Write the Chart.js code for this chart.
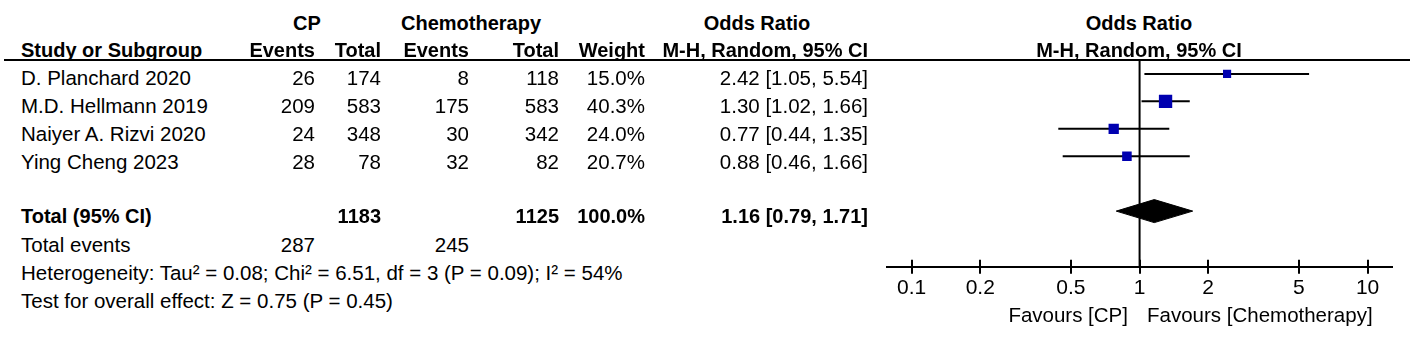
<!DOCTYPE html>
<html>
<head>
<meta charset="utf-8">
<script src="https://cdn.jsdelivr.net/npm/chart.js@4.4.1/dist/chart.umd.min.js"></script>
<style>
    body { margin: 0; background: #fff; width: 1417px; height: 344px; overflow: hidden; position: relative;
           font-family: "Liberation Sans", Arial, sans-serif; color: #000; }
    .t { position: absolute; font-size: 20.5px; line-height: 1; white-space: nowrap; }
    .b { font-weight: bold; font-size: 20px; }
    #rule { position: absolute; left: 4px; top: 59px; width: 1406px; height: 2px; background: #000; }
    #plot { position: absolute; left: 860px; top: 40px; width: 557px; height: 300px; }
</style>
</head>
<body>
<div id="rule"></div>
<div id="plot"><canvas id="forest"></canvas></div>
<script>
// study data
const studies = ['D. Planchard 2020', 'M.D. Hellmann 2019', 'Naiyer A. Rizvi 2020', 'Ying Cheng 2023'];
const cpEvents = [26, 209, 24, 28];
const cpTotal = [174, 583, 348, 78];
const chemoEvents = [8, 175, 30, 32];
const chemoTotal = [118, 583, 342, 82];
const weights = [15.0, 40.3, 24.0, 20.7];
const oddsRatio = [2.42, 1.30, 0.77, 0.88];
const ciLow = [1.05, 1.02, 0.44, 0.46];
const ciHigh = [5.54, 1.66, 1.35, 1.66];

// pooled result
const pooled = [1.16, 0.79, 1.71];   // estimate, low, high
const totalCP = 1183;
const totalChemo = 1125;
const eventsCP = 287;
const eventsChemo = 245;
const heterogeneity = 'Heterogeneity: Tau² = 0.08; Chi² = 6.51, df = 3 (P = 0.09); I² = 54%';
const overallTest = 'Test for overall effect: Z = 0.75 (P = 0.45)';

const tickValues = [0.1, 0.2, 0.5, 1, 2, 5, 10];

// layout
const col = { name: 21, cpEv: 315, cpTot: 381, chEv: 469, chTot: 559, weight: 645, or: 868 };
const plotCenter = 1139;

function put(text, x, y, align, bold) {
    const el = document.createElement('div');
    el.className = 't' + (bold ? ' b' : '');
    el.textContent = text;
    document.body.appendChild(el);
    const r = el.getBoundingClientRect();
    let left = x;
    if (align === 'right') left = x - r.width;
    if (align === 'center') left = x - r.width / 2;
    el.style.left = left + 'px';
    el.style.top = (y - r.height / 2) + 'px';
}

const fmt = v => v.toFixed(2);
const orText = (e, l, h) => `${fmt(e)} [${fmt(l)}, ${fmt(h)}]`;

// headers
put('CP', 307, 23, 'center', true);
put('Chemotherapy', 471, 23, 'center', true);
put('Odds Ratio', 757, 23, 'center', true);
put('Odds Ratio', plotCenter, 23, 'center', true);
put('Study or Subgroup', col.name, 50, 'left', true);
put('Events', col.cpEv, 50, 'right', true);
put('Total', col.cpTot, 50, 'right', true);
put('Events', col.chEv, 50, 'right', true);
put('Total', col.chTot, 50, 'right', true);
put('Weight', col.weight, 50, 'right', true);
put('M-H, Random, 95% CI', col.or, 50, 'right', true);
put('M-H, Random, 95% CI', plotCenter, 50, 'center', true);

// study rows
studies.forEach((s, i) => {
    const y = 78 + 28 * i;
    put(s, col.name, y, 'left');
    put(String(cpEvents[i]), col.cpEv, y, 'right');
    put(String(cpTotal[i]), col.cpTot, y, 'right');
    put(String(chemoEvents[i]), col.chEv, y, 'right');
    put(String(chemoTotal[i]), col.chTot, y, 'right');
    put(weights[i].toFixed(1) + '%', col.weight, y, 'right');
    put(orText(oddsRatio[i], ciLow[i], ciHigh[i]), col.or, y, 'right');
});

// totals
const totalWeight = weights.reduce((a, b) => a + b, 0);
put('Total (95% CI)', col.name, 216, 'left', true);
put(String(totalCP), col.cpTot, 216, 'right', true);
put(String(totalChemo), col.chTot, 216, 'right', true);
put(totalWeight.toFixed(1) + '%', col.weight, 216, 'right', true);
put(orText(pooled[0], pooled[1], pooled[2]), col.or, 216, 'right', true);
put('Total events', col.name, 245, 'left');
put(String(eventsCP), col.cpEv, 245, 'right');
put(String(eventsChemo), col.chEv, 245, 'right');
put(heterogeneity, col.name, 273, 'left');
put(overallTest, col.name, 301, 'left');

put('Favours [CP]', 1128, 315, 'right');
put('Favours [Chemotherapy]', 1147, 315, 'left');

// plot
const yMin = -0.507;
const yMax = 7.03;
const totalRow = 5;
const diamondHalf = 0.42;
const squareBlue = '#0000b0';

const ciSets = studies.map((s, i) => ({
    data: [{ x: ciLow[i], y: i }, { x: ciHigh[i], y: i }],
    borderColor: '#000',
    borderWidth: 2,
    pointRadius: 0,
    order: 2
}));

const datasets = [
    {
        data: oddsRatio.map((v, i) => ({ x: v, y: i })),
        showLine: false,
        pointStyle: 'rect',
        pointRadius: weights.map(w => 2.1 * Math.sqrt(w) / Math.SQRT2),
        backgroundColor: squareBlue,
        borderColor: squareBlue,
        borderWidth: 0,
        order: 0
    },
    ...ciSets,
    {
        data: [
            { x: pooled[1], y: totalRow },
            { x: pooled[0], y: totalRow - diamondHalf },
            { x: pooled[2], y: totalRow },
            { x: pooled[0], y: totalRow + diamondHalf },
            { x: pooled[1], y: totalRow }
        ],
        borderColor: '#000',
        backgroundColor: '#000',
        borderWidth: 1,
        pointRadius: 0,
        fill: 'shape',
        order: 1
    },
    {
        data: [{ x: 1, y: yMin }, { x: 1, y: yMax }],
        borderColor: '#000',
        borderWidth: 2,
        pointRadius: 0,
        order: 3
    }
];

// ticks crossing the axis line
const crossTicks = {
    id: 'crossTicks',
    afterDraw(chart) {
        const ctx = chart.ctx;
        const xs = chart.scales.x;
        const bottom = chart.chartArea.bottom;
        ctx.save();
        ctx.strokeStyle = '#000';
        ctx.lineWidth = 2;
        tickValues.forEach(v => {
            const x = Math.round(xs.getPixelForValue(v));
            ctx.beginPath();
            ctx.moveTo(x, bottom - 7);
            ctx.lineTo(x, bottom);
            ctx.stroke();
        });
        ctx.restore();
    }
};

new Chart(document.getElementById('forest'), {
    type: 'line',
    data: { datasets },
    plugins: [crossTicks],
    options: {
        responsive: true,
        maintainAspectRatio: false,
        animation: false,
        layout: { padding: { left: 27, right: 25, top: 20, bottom: 37 } },
        plugins: { legend: { display: false }, tooltip: { enabled: false } },
        elements: { line: { tension: 0 } },
        scales: {
            x: {
                type: 'logarithmic',
                min: 0.078,
                max: 12.8,
                afterBuildTicks: scale => {
                    scale.ticks = tickValues.map(v => ({ value: v }));
                },
                ticks: {
                    autoSkip: false,
                    maxRotation: 0,
                    padding: 2,
                    color: '#000',
                    font: { family: 'Liberation Sans', size: 21 },
                    callback: v => String(v)
                },
                grid: { display: true, drawOnChartArea: false, drawTicks: true, tickLength: 7, color: '#000', lineWidth: 2 },
                border: { display: true, color: '#000', width: 2 }
            },
            y: {
                type: 'linear',
                display: false,
                reverse: true,
                min: yMin,
                max: yMax
            }
        }
    }
});
</script>
</body>
</html>
